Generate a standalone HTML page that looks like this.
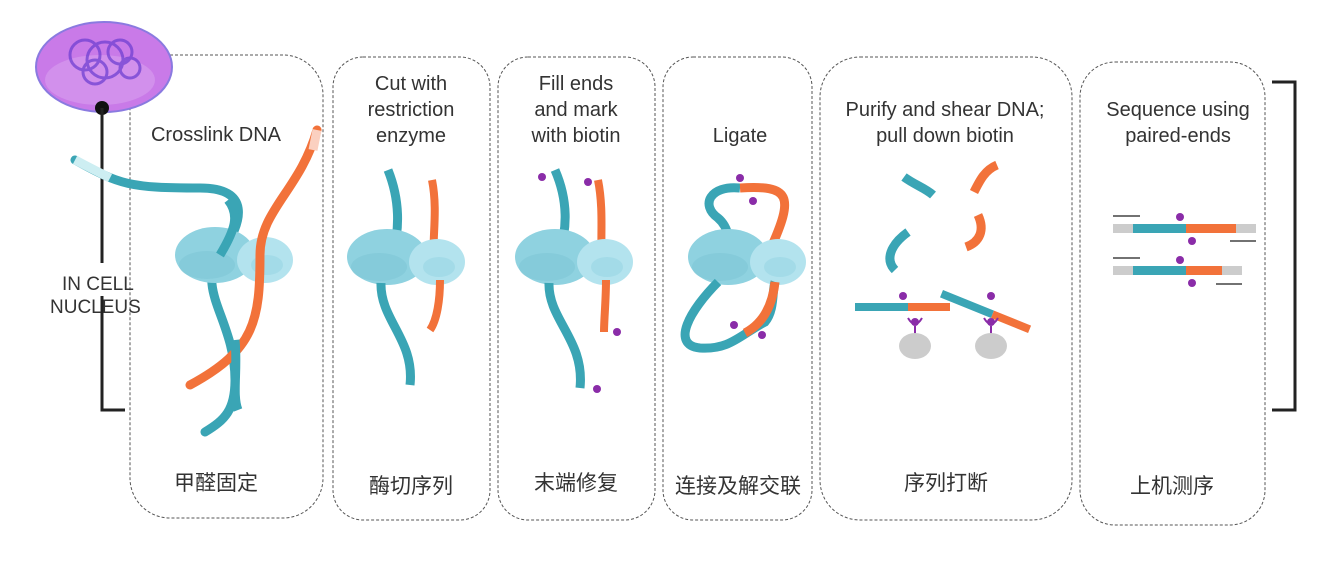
<!DOCTYPE html>
<html><head><meta charset="utf-8"><style>
html,body{margin:0;padding:0;background:#fff;}
svg{display:block;}
text{font-family:"Liberation Sans","Noto Sans CJK SC",sans-serif;fill:#333;}
</style></head><body>
<svg width="1329" height="567" viewBox="0 0 1329 567" xmlns="http://www.w3.org/2000/svg">
<defs>
<g id="prot">
  <ellipse cx="0" cy="0" rx="40" ry="28" fill="#8fd2e0"/>
  <ellipse cx="-8" cy="10" rx="28" ry="14" fill="#7fc6d6" opacity="0.6"/>
  <ellipse cx="50" cy="5" rx="28" ry="23" fill="#b3e3ee"/>
  <ellipse cx="52" cy="10" rx="16" ry="10" fill="#a3dbe8"/>
</g>
</defs>
<g fill="none" stroke="#555" stroke-width="1" stroke-dasharray="3,2">
<rect x="130" y="55" width="193" height="463" rx="40"/>
<rect x="333" y="57" width="157" height="463" rx="30"/>
<rect x="498" y="57" width="157" height="463" rx="30"/>
<rect x="663" y="57" width="149" height="463" rx="30"/>
<rect x="820" y="57" width="252" height="463" rx="40"/>
<rect x="1080" y="62" width="185" height="463" rx="35"/>
</g>
<!-- nucleus -->
<ellipse cx="104" cy="67" rx="68" ry="45" fill="#c97ae8" stroke="#8a7ae0" stroke-width="2"/>
<ellipse cx="100" cy="80" rx="55" ry="25" fill="#dca6f0" opacity="0.5"/>
<g fill="none" stroke="#6a3cd0" stroke-width="3" opacity="0.7">
<circle cx="85" cy="55" r="15"/><circle cx="105" cy="60" r="18"/><circle cx="120" cy="52" r="12"/><circle cx="95" cy="72" r="12"/><circle cx="130" cy="68" r="10"/>
</g>
<circle cx="102" cy="108" r="7" fill="#111"/>
<g stroke="#222" stroke-width="3" fill="none">
<line x1="102" y1="108" x2="102" y2="263"/>
<polyline points="102,296 102,410 125,410"/>
<polyline points="1272,82 1295,82 1295,410 1272,410"/>
</g>
<text x="62" y="290" font-size="19">IN CELL</text>
<text x="50" y="313" font-size="19">NUCLEUS</text>
<!-- panel 1 -->
<path d="M75,160 C120,185 130,188 200,188 C250,188 245,220 220,255 C195,290 235,320 235,380 C235,410 225,420 205,432" fill="none" stroke="#3aa5b5" stroke-width="9" stroke-linecap="round"/>
<path d="M75,160 L110,178" stroke="#cdeef2" stroke-width="9"/>
<use href="#prot" x="215" y="255"/>
<path d="M220,255 C235,230 240,215 228,200" fill="none" stroke="#3aa5b5" stroke-width="9"/>
<path d="M317,130 C300,190 260,210 260,255 C260,320 255,350 190,385" fill="none" stroke="#f2723a" stroke-width="9" stroke-linecap="round"/>
<path d="M317,130 L313,150" stroke="#fbd0c0" stroke-width="9"/>
<path d="M235,340 C238,370 232,395 238,410" fill="none" stroke="#3aa5b5" stroke-width="9"/>
<!-- panel 2 -->
<path d="M388,170 C400,200 400,230 392,255" fill="none" stroke="#3aa5b5" stroke-width="9"/>
<path d="M432,180 C438,210 432,240 434,255" fill="none" stroke="#f2723a" stroke-width="8"/>
<use href="#prot" x="387" y="257"/>
<path d="M381,283 C380,320 415,340 410,385" fill="none" stroke="#3aa5b5" stroke-width="9"/>
<path d="M440,280 C440,300 437,320 430,330" fill="none" stroke="#f2723a" stroke-width="8"/>
<!-- panel 3 -->
<path d="M555,170 C568,200 568,230 558,255" fill="none" stroke="#3aa5b5" stroke-width="9"/>
<path d="M598,180 C604,210 600,240 602,255" fill="none" stroke="#f2723a" stroke-width="8"/>
<use href="#prot" x="555" y="257"/>
<path d="M549,283 C548,320 585,340 580,388" fill="none" stroke="#3aa5b5" stroke-width="9"/>
<path d="M606,280 C606,300 604,320 604,332" fill="none" stroke="#f2723a" stroke-width="8"/>
<g fill="#8a2ca8"><circle cx="542" cy="177" r="4"/><circle cx="588" cy="182" r="4"/><circle cx="617" cy="332" r="4"/><circle cx="597" cy="389" r="4"/></g>
<!-- panel 4 -->
<path d="M740,188 C710,185 700,205 718,218 C730,228 730,245 728,255" fill="none" stroke="#3aa5b5" stroke-width="9"/>
<path d="M740,188 C790,185 795,195 770,250" fill="none" stroke="#f2723a" stroke-width="9"/>
<use href="#prot" x="728" y="257"/>
<path d="M718,282 C690,310 670,345 700,348 C730,350 740,335 765,322 C775,310 772,290 775,282" fill="none" stroke="#3aa5b5" stroke-width="9"/>
<path d="M745,333 C760,325 772,310 775,282" fill="none" stroke="#f2723a" stroke-width="9"/>
<g fill="#8a2ca8"><circle cx="740" cy="178" r="4"/><circle cx="753" cy="201" r="4"/><circle cx="734" cy="325" r="4"/><circle cx="762" cy="335" r="4"/></g>
<!-- panel 5 -->
<g fill="none" stroke-width="9">
<path d="M904,177 C915,185 925,188 933,195" stroke="#3aa5b5"/>
<path d="M997,165 C985,170 980,180 974,192" stroke="#f2723a"/>
<path d="M908,232 C890,245 885,260 895,270" stroke="#3aa5b5"/>
<path d="M978,215 C985,230 980,242 966,247" stroke="#f2723a"/>
</g>
<rect x="855" y="303" width="53" height="8" fill="#3aa5b5"/><rect x="908" y="303" width="42" height="8" fill="#f2723a"/>
<g transform="translate(943,290) rotate(22)"><rect x="0" y="0" width="55" height="8" fill="#3aa5b5"/><rect x="55" y="0" width="40" height="8" fill="#f2723a"/></g>
<g fill="#8a2ca8"><circle cx="903" cy="296" r="4"/><circle cx="991" cy="296" r="4"/><circle cx="915" cy="322" r="4"/><circle cx="991" cy="322" r="4"/></g>
<g stroke="#8a2ca8" stroke-width="2" fill="none"><path d="M908,318 Q915,330 922,318 M915,326 V335"/><path d="M984,318 Q991,330 998,318 M991,326 V335"/></g>
<ellipse cx="915" cy="346" rx="16" ry="13" fill="#ccc"/><ellipse cx="991" cy="346" rx="16" ry="13" fill="#ccc"/>
<!-- panel 6 -->
<g>
<rect x="1113" y="224" width="20" height="9" fill="#ccc"/><rect x="1133" y="224" width="53" height="9" fill="#3aa5b5"/><rect x="1186" y="224" width="50" height="9" fill="#f2723a"/><rect x="1236" y="224" width="20" height="9" fill="#ccc"/>
<rect x="1113" y="266" width="20" height="9" fill="#ccc"/><rect x="1133" y="266" width="53" height="9" fill="#3aa5b5"/><rect x="1186" y="266" width="36" height="9" fill="#f2723a"/><rect x="1222" y="266" width="20" height="9" fill="#ccc"/>
<g fill="#8a2ca8"><circle cx="1180" cy="217" r="4"/><circle cx="1192" cy="241" r="4"/><circle cx="1180" cy="260" r="4"/><circle cx="1192" cy="283" r="4"/></g>
<g stroke="#444" stroke-width="1.5"><line x1="1113" y1="216" x2="1140" y2="216"/><line x1="1230" y1="241" x2="1256" y2="241"/><line x1="1113" y1="258" x2="1140" y2="258"/><line x1="1216" y1="284" x2="1242" y2="284"/></g>
</g>
<!-- labels -->
<g font-size="20" text-anchor="middle">
<text x="216" y="141">Crosslink DNA</text>
<text x="411" y="90">Cut with</text><text x="411" y="116">restriction</text><text x="411" y="142">enzyme</text>
<text x="576" y="90">Fill ends</text><text x="576" y="116">and mark</text><text x="576" y="142">with biotin</text>
<text x="740" y="142">Ligate</text>
<text x="945" y="116">Purify and shear DNA;</text><text x="945" y="142">pull down biotin</text>
<text x="1178" y="116">Sequence using</text><text x="1178" y="142">paired-ends</text>
</g>
<g font-size="21" text-anchor="middle" fill="#111">
<text x="216" y="490">甲醛固定</text>
<text x="411" y="493">酶切序列</text>
<text x="576" y="490">末端修复</text>
<text x="738" y="493">连接及解交联</text>
<text x="946" y="490">序列打断</text>
<text x="1172" y="493">上机测序</text>
</g>
</svg>
</body></html>
